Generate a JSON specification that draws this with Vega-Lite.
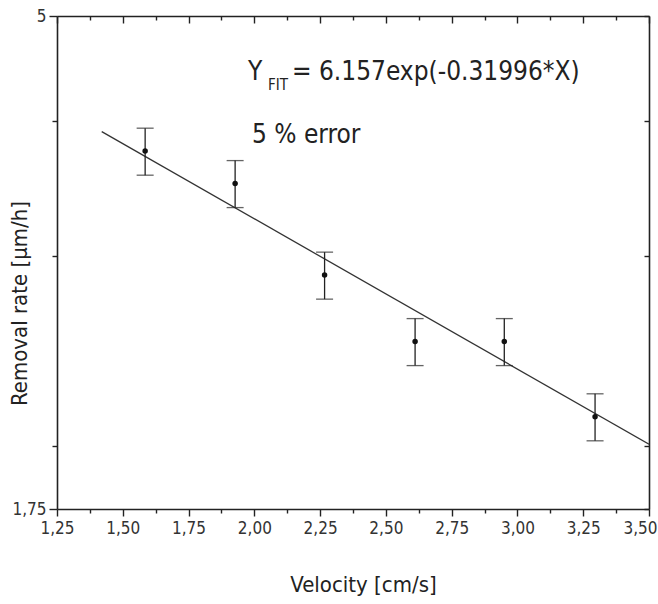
{
  "$schema": "https://vega.github.io/schema/vega-lite/v6.json",
  "width": 592,
  "height": 493,
  "autosize": {"type": "none"},
  "padding": {"left": 57, "top": 16, "right": 9, "bottom": 95},
  "background": "white",
  "config": {
    "view": {"stroke": null},
    "font": "Liberation Sans Narrow, DejaVu Sans Condensed, sans-serif",
    "axis": {
      "domainColor": "#222",
      "domainWidth": 1.6,
      "tickColor": "#222",
      "tickWidth": 1.4,
      "grid": false,
      "labelColor": "#333",
      "labelFontSize": 17,
      "labelFont": "Liberation Sans Narrow, DejaVu Sans Condensed, sans-serif",
      "titleFont": "Liberation Sans Narrow, DejaVu Sans Condensed, sans-serif",
      "titleFontWeight": "normal",
      "titleColor": "#222",
      "titleFontSize": 22
    }
  },
  "datasets": {
    "points": [
      {"velocity": 1.585, "rate": 3.75, "lo": 3.5625, "hi": 3.9375},
      {"velocity": 1.927, "rate": 3.5, "lo": 3.325, "hi": 3.675},
      {"velocity": 2.267, "rate": 2.88, "lo": 2.736, "hi": 3.024},
      {"velocity": 2.611, "rate": 2.5, "lo": 2.375, "hi": 2.625},
      {"velocity": 2.95, "rate": 2.5, "lo": 2.375, "hi": 2.625},
      {"velocity": 3.295, "rate": 2.13, "lo": 2.0235, "hi": 2.2365}
    ],
    "fit": [
      {"velocity": 1.42, "rate": 3.909},
      {"velocity": 3.5, "rate": 2.009}
    ],
    "notes": [
      {"kind": "main", "label": "Y", "velocity": 1.976, "rate": 4.363},
      {"kind": "sub", "label": "FIT", "velocity": 2.052, "rate": 4.271},
      {"kind": "main", "label": "= 6.157exp(-0.31996*X)", "velocity": 2.143, "rate": 4.363},
      {"kind": "main", "label": "5 % error", "velocity": 1.991, "rate": 3.815}
    ]
  },
  "layer": [
    {
      "data": {"name": "fit"},
      "mark": {"type": "line", "color": "#333", "strokeWidth": 1.3, "clip": true},
      "encoding": {
        "x": {
          "field": "velocity", "type": "quantitative",
          "scale": {"domain": [1.25, 3.5], "nice": false, "zero": false},
          "axis": {
            "orient": "bottom",
            "title": "Velocity [cm/s]",
            "values": [1.25, 1.375, 1.5, 1.625, 1.75, 1.875, 2, 2.125, 2.25, 2.375, 2.5, 2.625, 2.75, 2.875, 3, 3.125, 3.25, 3.375, 3.5],
            "labelExpr": "(datum.value*4)%1 == 0 ? replace(format(datum.value, '.2f'), '.', ',') : ''",
            "tickSize": {"condition": {"test": "(datum.value*4)%1 == 0", "value": 7}, "value": 4},
            "labelAlign": {"condition": {"test": "datum.value == 3.5", "value": "right"}, "value": "center"},
            "labelOffset": {"condition": {"test": "datum.value == 3.5", "value": 8}, "value": 0},
            "labelPadding": 4,
            "labelFlush": false,
            "labelOverlap": false,
            "titleX": 306,
            "titleY": 82,
            "titleBaseline": "alphabetic"
          }
        },
        "y": {
          "field": "rate", "type": "quantitative",
          "scale": {"type": "log", "domain": [1.75, 5], "nice": false, "zero": false},
          "axis": {
            "orient": "left",
            "title": "Removal rate [µm/h]",
            "values": [1.75, 2, 3, 4, 5],
            "labelExpr": "datum.value == 5 ? '5' : (datum.value == 1.75 ? '1,75' : '')",
            "tickSize": {"condition": {"test": "datum.value == 5 || datum.value == 1.75", "value": 8}, "value": 5},
            "labelPadding": 3,
            "labelFlush": false,
            "labelOverlap": false,
            "titleX": -26,
            "titleY": 287,
            "titleAngle": -90,
            "titleBaseline": "bottom"
          }
        }
      }
    },
    {
      "data": {"name": "fit"},
      "mark": {"type": "line", "opacity": 0},
      "encoding": {
        "x": {
          "field": "velocity", "type": "quantitative",
          "scale": {"domain": [1.25, 3.5], "nice": false, "zero": false},
          "axis": {
            "orient": "top",
            "title": null,
            "values": [1.25, 1.375, 1.5, 1.625, 1.75, 1.875, 2, 2.125, 2.25, 2.375, 2.5, 2.625, 2.75, 2.875, 3, 3.125, 3.25, 3.375, 3.5],
            "labels": false,
            "tickSize": {"condition": {"test": "(datum.value*4)%1 == 0", "value": -7}, "value": -4}
          }
        },
        "y": {
          "field": "rate", "type": "quantitative",
          "scale": {"type": "log", "domain": [1.75, 5], "nice": false, "zero": false},
          "axis": {
            "orient": "right",
            "title": null,
            "values": [1.75, 2, 3, 4, 5],
            "labels": false,
            "tickSize": -5
          }
        }
      }
    },
    {
      "data": {"name": "points"},
      "mark": {"type": "rule", "color": "#222", "strokeWidth": 1.3},
      "encoding": {
        "x": {"field": "velocity", "type": "quantitative", "axis": null},
        "y": {"field": "lo", "type": "quantitative", "axis": null},
        "y2": {"field": "hi"}
      }
    },
    {
      "data": {"name": "points"},
      "mark": {"type": "tick", "orient": "horizontal", "color": "#222", "size": 17, "thickness": 1.3},
      "encoding": {
        "x": {"field": "velocity", "type": "quantitative", "axis": null},
        "y": {"field": "lo", "type": "quantitative", "axis": null}
      }
    },
    {
      "data": {"name": "points"},
      "mark": {"type": "tick", "orient": "horizontal", "color": "#222", "size": 17, "thickness": 1.3},
      "encoding": {
        "x": {"field": "velocity", "type": "quantitative", "axis": null},
        "y": {"field": "hi", "type": "quantitative", "axis": null}
      }
    },
    {
      "data": {"name": "points"},
      "mark": {"type": "point", "filled": true, "color": "#111", "size": 30, "opacity": 1},
      "encoding": {
        "x": {"field": "velocity", "type": "quantitative", "axis": null},
        "y": {"field": "rate", "type": "quantitative", "axis": null}
      }
    },
    {
      "data": {"name": "notes"},
      "transform": [{"filter": "datum.kind == 'main'"}],
      "mark": {"type": "text", "align": "left", "baseline": "alphabetic", "fontSize": 26, "color": "#222", "font": "Liberation Sans Narrow, DejaVu Sans Condensed, sans-serif"},
      "encoding": {
        "x": {"field": "velocity", "type": "quantitative", "axis": null},
        "y": {"field": "rate", "type": "quantitative", "axis": null},
        "text": {"field": "label"}
      }
    },
    {
      "data": {"name": "notes"},
      "transform": [{"filter": "datum.kind == 'sub'"}],
      "mark": {"type": "text", "align": "left", "baseline": "alphabetic", "fontSize": 15, "color": "#222", "font": "Liberation Sans Narrow, DejaVu Sans Condensed, sans-serif"},
      "encoding": {
        "x": {"field": "velocity", "type": "quantitative", "axis": null},
        "y": {"field": "rate", "type": "quantitative", "axis": null},
        "text": {"field": "label"}
      }
    }
  ],
  "resolve": {"axis": {"x": "independent", "y": "independent"}}
}
